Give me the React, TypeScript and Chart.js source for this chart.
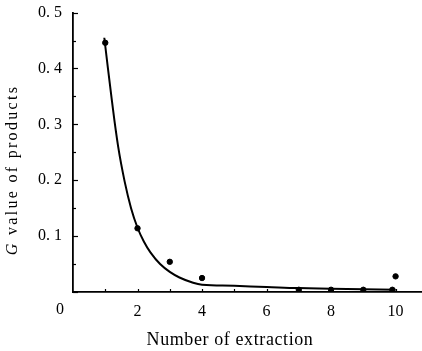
import React, { useEffect, useRef } from "react";
import { Chart, registerables } from "chart.js";

Chart.register(...registerables);

// Measured data points (Number of extraction, G value)
const pointX = [1, 2, 3, 4, 7, 8, 9, 9.9, 10];
const pointY = [0.446, 0.114, 0.054, 0.025, 0.004, 0.004, 0.004, 0.004, 0.028];

// Fitted curve
const curveX = [0.97, 1.2, 1.4, 1.6, 1.8, 2, 2.2, 2.4, 2.7, 3, 3.3, 3.7, 4, 5, 6, 7, 8, 9, 10];
const curveY = [0.455, 0.345, 0.26, 0.198, 0.15, 0.115, 0.09, 0.071, 0.05, 0.036, 0.026, 0.017, 0.013, 0.011, 0.009, 0.007, 0.006, 0.005, 0.004];

const xTickLabels = ["", "", "2", "", "4", "", "6", "", "8", "", "10"];
const yTickLabels = ["", "0. 1", "0. 2", "0. 3", "0. 4", "0. 5"];
const xTitle = "Number of extraction";
const yTitleItalic = "G";
const yTitleRest = " value of products";
const originLabel = "0";

const FONT = "'Liberation Serif', 'DejaVu Serif', serif";
const OFFSET = 8; // canvas is shifted up by this many px

const decorPlugin = {
  id: "decor",
  afterDraw(chart: any) {
    const ctx = chart.ctx;
    const xs = chart.scales.x;
    const ys = chart.scales.y;
    const area = chart.chartArea;
    ctx.save();
    ctx.strokeStyle = "#000";
    ctx.lineWidth = 1.2;
    // y ticks (inward): major every 0.1, minor every 0.05
    for (let i = 0; i <= 10; i++) {
      const v = i * 0.05;
      const py = Math.round(ys.getPixelForValue(v)) + 0.5;
      const len = i % 2 === 0 ? 5 : 3;
      ctx.beginPath();
      ctx.moveTo(area.left, py);
      ctx.lineTo(area.left + len, py);
      ctx.stroke();
    }
    // x ticks (inward) every 1
    for (let i = 1; i <= 10; i++) {
      const px = Math.round(xs.getPixelForValue(i)) + 0.5;
      ctx.beginPath();
      ctx.moveTo(px, area.bottom);
      ctx.lineTo(px, area.bottom - 3);
      ctx.stroke();
    }
    // origin label
    ctx.fillStyle = "#000";
    ctx.font = `16px ${FONT}`;
    ctx.textAlign = "center";
    ctx.textBaseline = "middle";
    ctx.fillText(originLabel, area.left - 13, area.bottom + 18);
    // x title
    (ctx as any).letterSpacing = "0.6px";
    ctx.font = `18px ${FONT}`;
    ctx.fillText(xTitle, 230, 340 + OFFSET);
    // y title with italic G
    (ctx as any).letterSpacing = "2.3px";
    ctx.translate(13, 170 + OFFSET);
    ctx.rotate(-Math.PI / 2);
    ctx.textAlign = "left";
    ctx.font = `italic 16px ${FONT}`;
    const w1 = ctx.measureText(yTitleItalic).width;
    ctx.font = `16px ${FONT}`;
    const w2 = ctx.measureText(yTitleRest).width;
    const start = -(w1 + w2) / 2;
    ctx.font = `italic 16px ${FONT}`;
    ctx.fillText(yTitleItalic, start, 0);
    ctx.font = `16px ${FONT}`;
    ctx.fillText(yTitleRest, start + w1, 0);
    ctx.restore();
  },
};

export default function App() {
  const ref = useRef<HTMLCanvasElement | null>(null);
  useEffect(() => {
    if (!ref.current) return;
    const chart = new Chart(ref.current, {
      type: "scatter",
      data: {
        datasets: [
          {
            type: "line",
            data: curveX.map((x, i) => ({ x, y: curveY[i] })),
            borderColor: "#000",
            borderWidth: 2,
            pointRadius: 0,
            tension: 0.4,
            fill: false,
          } as any,
          {
            data: pointX.map((x, i) => ({ x, y: pointY[i] })),
            backgroundColor: "#000",
            borderColor: "#000",
            pointRadius: 2.7,
            pointStyle: "circle",
          },
        ],
      },
      options: {
        animation: false,
        responsive: true,
        maintainAspectRatio: false,
        layout: { padding: 0 },
        plugins: { legend: { display: false }, tooltip: { enabled: false } },
        scales: {
          x: {
            type: "linear",
            min: 0,
            max: 10.85,
            grid: { display: false, drawTicks: false },
            border: { display: true, color: "#000", width: 1.8 },
            afterFit: (s: any) => {
              s.height = 59;
            },
            ticks: {
              stepSize: 1,
              includeBounds: false,
              autoSkip: false,
              maxRotation: 0,
              padding: 10,
              color: "#000",
              font: { family: FONT, size: 16 },
              callback: (v: any) => {
                const i = Math.round(Number(v));
                return xTickLabels[i] ?? "";
              },
            },
          },
          y: {
            type: "linear",
            min: 0,
            max: 0.5,
            grid: { display: false, drawTicks: false },
            border: { display: true, color: "#000", width: 1.8 },
            afterFit: (s: any) => {
              s.width = 73;
            },
            ticks: {
              stepSize: 0.1,
              padding: 11,
              color: "#000",
              font: { family: FONT, size: 16 },
              callback: (v: any) => {
                const i = Math.round(Number(v) * 10);
                return yTickLabels[i] ?? "";
              },
            },
          },
        },
      },
      plugins: [decorPlugin],
    });
    return () => chart.destroy();
  }, []);
  return (
    <div style={{ position: "fixed", left: 0, top: 0, width: 422, height: 351, overflow: "hidden", background: "#fff" }}>
      <div style={{ position: "absolute", left: 0, top: -OFFSET, width: 428, height: 351 + OFFSET }}>
        <canvas ref={ref} />
      </div>
    </div>
  );
}
